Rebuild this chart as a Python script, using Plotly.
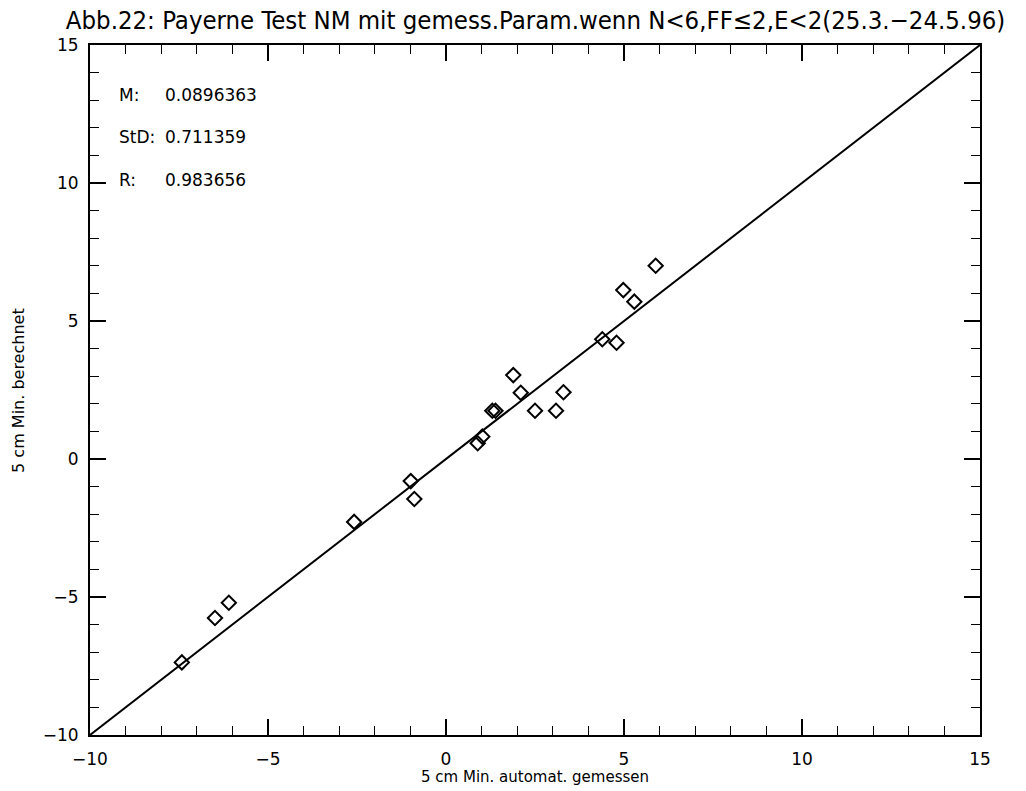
import plotly.graph_objects as go

# measured (automat. gemessen) vs computed (berechnet) 5 cm minimum temperatures
x_gemessen = [-7.42, -6.49, -6.10, -2.58, -0.99, -0.89, 0.89, 1.02, 1.30, 1.39,
              1.89, 2.10, 2.50, 3.09, 3.30, 4.39, 4.79, 4.98, 5.29, 5.89]
y_berechnet = [-7.37, -5.76, -5.21, -2.28, -0.80, -1.45, 0.57, 0.81, 1.75, 1.75,
               3.04, 2.40, 1.75, 1.75, 2.42, 4.34, 4.21, 6.12, 5.70, 7.00]
diag = [-10, 15]
stat_labels = ["M:", "StD:", "R:"]
stat_values = ["0.0896363", "0.711359", "0.983656"]
tick_vals = [-10, -5, 0, 5, 10, 15]

title_font = "Liberation Sans Narrow, DejaVu Sans Condensed, Arial Narrow, sans-serif"
body_font = "DejaVu Sans, Liberation Sans, Arial, sans-serif"

fig = go.Figure()
fig.add_trace(go.Scatter(x=diag, y=diag, mode="lines",
                         line=dict(color="black", width=2), showlegend=False,
                         hoverinfo="skip"))
fig.add_trace(go.Scatter(x=x_gemessen, y=y_berechnet, mode="markers",
                         marker=dict(symbol="diamond-open", size=11, color="black",
                                     line=dict(width=2, color="black")),
                         showlegend=False))

axis_common = dict(
    range=[-10, 15], tickmode="array", tickvals=tick_vals,
    ticks="inside", ticklen=16, tickwidth=1.5, tickcolor="black",
    minor=dict(dtick=1, ticks="inside", ticklen=9, tickwidth=1.2, tickcolor="black"),
    showline=True, linecolor="black", linewidth=2, mirror="ticks",
    showgrid=False, zeroline=False,
    tickfont=dict(family=body_font, size=17, color="black"),
)
fig.update_xaxes(**axis_common, ticklabelstandoff=8)
fig.update_yaxes(**axis_common, ticklabelstandoff=6)

annotations = []
ys = [13.2, 11.67, 10.1]
for lab, val, yy in zip(stat_labels, stat_values, ys):
    annotations.append(dict(x=-9.24, y=yy, xref="x", yref="y", text=lab, showarrow=False,
                            xanchor="left", yanchor="middle",
                            font=dict(family=body_font, size=17, color="black")))
    annotations.append(dict(x=-7.96, y=yy, xref="x", yref="y", text=val, showarrow=False,
                            xanchor="left", yanchor="middle",
                            font=dict(family=body_font, size=17, color="black")))
annotations.append(dict(x=0.5, y=-0.061, xref="paper", yref="paper",
                        text="5 cm Min. automat. gemessen", showarrow=False,
                        xanchor="center", yanchor="middle",
                        font=dict(family=body_font, size=15, color="black")))
annotations.append(dict(x=-0.081, y=0.5, xref="paper", yref="paper",
                        text="5 cm Min. berechnet", showarrow=False, textangle=-90,
                        xanchor="center", yanchor="middle",
                        font=dict(family=body_font, size=16, color="black")))

fig.update_layout(
    width=1026, height=791,
    margin=dict(l=90, r=46, t=45, b=56),
    paper_bgcolor="white", plot_bgcolor="white",
    title=dict(text="Abb.22: Payerne Test NM mit gemess.Param.wenn N&lt;6,FF≤2,E&lt;2(25.3.−24.5.96)",
               x=0.522, xanchor="center", y=0.975, yanchor="middle",
               font=dict(family=title_font, size=25.5, color="black")),
    annotations=annotations,
)

fig.write_html("out.html")
